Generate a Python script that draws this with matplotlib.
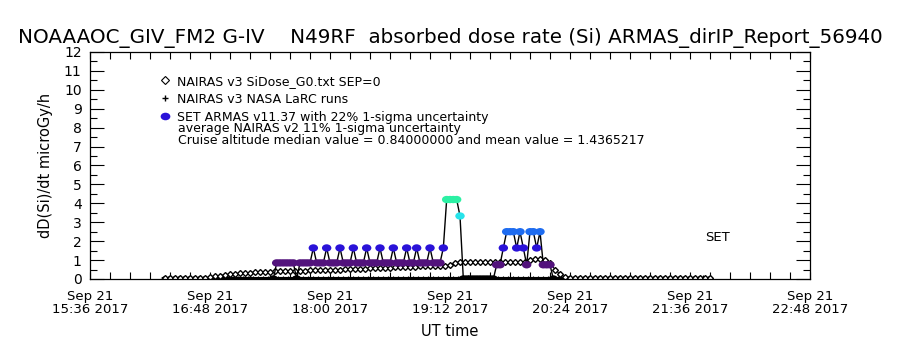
import numpy as np
import pandas as pd
import matplotlib
matplotlib.use("Agg")
import matplotlib.pyplot as plt
import matplotlib.dates as mdates
from matplotlib.colors import ListedColormap, BoundaryNorm
from matplotlib.lines import Line2D
from matplotlib.path import Path

plt.rcParams['font.family'] = ['DejaVu Sans']

# time axis (UT), 2017-09-21
t_start = pd.Timestamp("2017-09-21 15:36")
t_end = pd.Timestamp("2017-09-21 22:48")

# NAIRAS v3 SiDose_G0 (diamonds), 3 min cadence from 16:21
nairas_t0 = pd.Timestamp("2017-09-21 16:21")
nairas_dose = [
    0.05, 0.05, 0.05, 0.05, 0.05, 0.05, 0.05, 0.05, 0.05,
    0.10, 0.14, 0.18, 0.22, 0.25, 0.28, 0.30, 0.32, 0.34, 0.36,
    0.37, 0.38, 0.39, 0.40, 0.41, 0.42, 0.42, 0.43, 0.44, 0.44,
    0.45, 0.46, 0.46, 0.47, 0.48, 0.49, 0.50, 0.51, 0.52, 0.53,
    0.54, 0.55, 0.56, 0.57, 0.58, 0.59, 0.60, 0.61, 0.62, 0.63,
    0.64, 0.65, 0.66, 0.67, 0.68, 0.69, 0.70, 0.71, 0.72,
    0.86,
    0.90, 0.90, 0.90, 0.90, 0.90, 0.90, 0.90, 0.90, 0.90, 0.90,
    0.90, 0.90, 0.90, 0.90,
    1.00, 1.05, 1.05, 1.00,
    0.85, 0.50, 0.25, 0.10,
    0.05, 0.05, 0.05, 0.05, 0.05, 0.05, 0.05, 0.05, 0.05, 0.05,
    0.05, 0.05, 0.05, 0.05, 0.05, 0.05, 0.05, 0.05, 0.05, 0.05,
    0.05, 0.05, 0.05, 0.05, 0.05, 0.05, 0.05, 0.05, 0.05,
]

# NAIRAS v3 NASA LaRC runs (plus), 3 min cadence from 16:20
larc_t0 = pd.Timestamp("2017-09-21 16:20")
larc_dose = [
    0.02, 0.02, 0.02, 0.02, 0.02, 0.02, 0.02, 0.02, 0.02, 0.02,
    0.02, 0.02, 0.02, 0.02, 0.02, 0.02, 0.02, 0.02, 0.02, 0.02,
    0.02, 0.02, 0.02, 0.02, 0.02, 0.02, 0.02, 0.02, 0.02, 0.02,
    0.02, 0.02, 0.02, 0.02, 0.02, 0.02, 0.02, 0.02, 0.02, 0.02,
    0.02, 0.02, 0.02, 0.02, 0.02, 0.02, 0.02, 0.02, 0.02, 0.02,
    0.02, 0.02, 0.02, 0.02, 0.02, 0.02, 0.02, 0.02, 0.02, 0.02,
    0.04, 0.04, 0.02, 0.02, 0.02, 0.02, 0.02, 0.02, 0.02, 0.02,
    0.02, 0.02, 0.02, 0.02, 0.02, 0.02, 0.02, 0.02, 0.02, 0.02,
    0.02, 0.02, 0.02, 0.02, 0.02, 0.02, 0.02, 0.02, 0.02, 0.02,
    0.02, 0.02, 0.02, 0.02, 0.02, 0.02, 0.02, 0.02, 0.02, 0.02,
    0.02, 0.02, 0.02, 0.02, 0.02, 0.02, 0.02, 0.02, 0.04, 0.02,
]

# SET ARMAS v11.37, 2 min cadence from 17:26
set_t0 = pd.Timestamp("2017-09-21 17:26")
set_dose = [
    0.00, 0.85, 0.85, 0.85, 0.85, 0.85, 0.85, 0.00,
    0.85, 0.85, 0.85, 0.85, 1.64,
    0.85, 0.85, 0.85, 1.64,
    0.85, 0.85, 0.85, 1.64,
    0.85, 0.85, 0.85, 1.64,
    0.85, 0.85, 0.85, 1.64,
    0.85, 0.85, 0.85, 1.64,
    0.85, 0.85, 0.85, 1.64,
    0.85, 0.85, 0.85, 1.64,
    0.85, 0.85, 1.64,
    0.85, 0.85, 0.85, 1.64,
    0.85, 0.85, 0.85, 1.64,
    4.20, 4.20, 4.20, 4.20, 3.33,
    0.00, 0.00, 0.00, 0.00, 0.00, 0.00, 0.00, 0.00, 0.00, 0.00,
    0.75, 0.75, 1.64, 2.50, 2.50, 2.50, 1.64, 2.50, 1.64, 0.75,
    2.50, 2.50, 1.64, 2.50, 0.75, 0.75, 0.75, 0.00,
]

title = "NOAAAOC_GIV_FM2 G-IV    N49RF  absorbed dose rate (Si) ARMAS_dirIP_Report_56940"
legend_labels = ["NAIRAS v3 SiDose_G0.txt SEP=0",
                 "NAIRAS v3 NASA LaRC runs",
                 "SET ARMAS v11.37 with 22% 1-sigma uncertainty"]
note1 = "average NAIRAS v2 11% 1-sigma uncertainty"
note2 = "Cruise altitude median value = 0.84000000 and mean value = 1.4365217"

nairas_time = pd.date_range(nairas_t0, periods=len(nairas_dose), freq="3min")
larc_time = pd.date_range(larc_t0, periods=len(larc_dose), freq="3min")
set_time = pd.date_range(set_t0, periods=len(set_dose), freq="2min")

# value -> colour, like the IDL colour table
set_cmap = ListedColormap(["black", "#52127c", "#2a12d8", "#1e6cf0", "#27e3ea", "#2cf0a4"])
set_norm = BoundaryNorm([-1, 0.3, 1.2, 2.0, 3.0, 3.8, 10], set_cmap.N)

circ = Path.unit_circle()
ellipse = Path(circ.vertices * np.array([1.0, 0.78]), circ.codes)

fig = plt.figure(figsize=(9, 3.5), dpi=100)
ax = fig.add_axes([0.1, 0.2029, 0.8, 0.6486])

ax.plot(larc_time, larc_dose, color="black", lw=2.4, marker="+", ms=4, mew=0.8)
ax.plot(nairas_time, nairas_dose, color="black", lw=0.8, marker="D", ms=3.0,
        mfc="white", mec="black", mew=1.0)
ax.plot(set_time, set_dose, color="black", lw=1.0)
ax.scatter(set_time, set_dose, c=set_dose, cmap=set_cmap, norm=set_norm,
           marker=ellipse, s=46, linewidths=0, zorder=3)

ax.set_xlim(t_start, t_end)
ax.set_ylim(0, 12)
major = pd.date_range(t_start, t_end, freq="72min")
minor = pd.date_range(t_start, t_end, freq="12min")
ax.xaxis.set_major_locator(matplotlib.ticker.FixedLocator(mdates.date2num(major)))
ax.xaxis.set_minor_locator(matplotlib.ticker.FixedLocator(mdates.date2num(minor)))
ax.xaxis.set_major_formatter(mdates.DateFormatter("%b %d\n%H:%M %Y"))
ax.set_yticks(np.arange(0, 13, 1))
ax.set_yticks(np.arange(0.5, 12, 1), minor=True)
ax.tick_params(axis="both", which="both", direction="in", top=True, right=True,
               color="black", width=0.8)
ax.tick_params(axis="y", which="major", length=10, labelsize=10, pad=6)
ax.tick_params(axis="y", which="minor", length=5)
ax.tick_params(axis="x", which="major", length=5, labelsize=9.5, pad=8)
ax.tick_params(axis="x", which="minor", length=5)
for lab in ax.get_xticklabels():
    lab.set_linespacing(1.0)
for sp in ax.spines.values():
    sp.set_linewidth(0.9)

ax.set_ylabel("dD(Si)/dt microGy/h", fontsize=10.5, labelpad=8)
ax.set_xlabel("UT time", fontsize=10.5, labelpad=6)
fig.text(0.5, 0.891, title, ha="center", va="center", fontsize=14.3)

handles = [
    Line2D([], [], ls="none", marker="D", ms=3.6, mfc="white", mec="black", mew=0.8),
    Line2D([], [], ls="none", marker="+", ms=5, mec="black", mew=1.0),
    Line2D([], [], ls="none", marker=ellipse, ms=7, mfc="#2a12d8", mec="none"),
]
ax.legend(handles, legend_labels, loc="upper left", bbox_to_anchor=(0.097, 0.9),
          frameon=False, fontsize=9, handlelength=0.8, handletextpad=0.6,
          labelspacing=0.4, borderpad=0, borderaxespad=0)
ax.text(0.1222, 0.662, note1, transform=ax.transAxes, fontsize=9, va="center")
ax.text(0.1222, 0.608, note2, transform=ax.transAxes, fontsize=9, va="center")
ax.text(0.854, 0.181, "SET", transform=ax.transAxes, fontsize=9.5, va="center")

fig.savefig("out.png", dpi=100)
